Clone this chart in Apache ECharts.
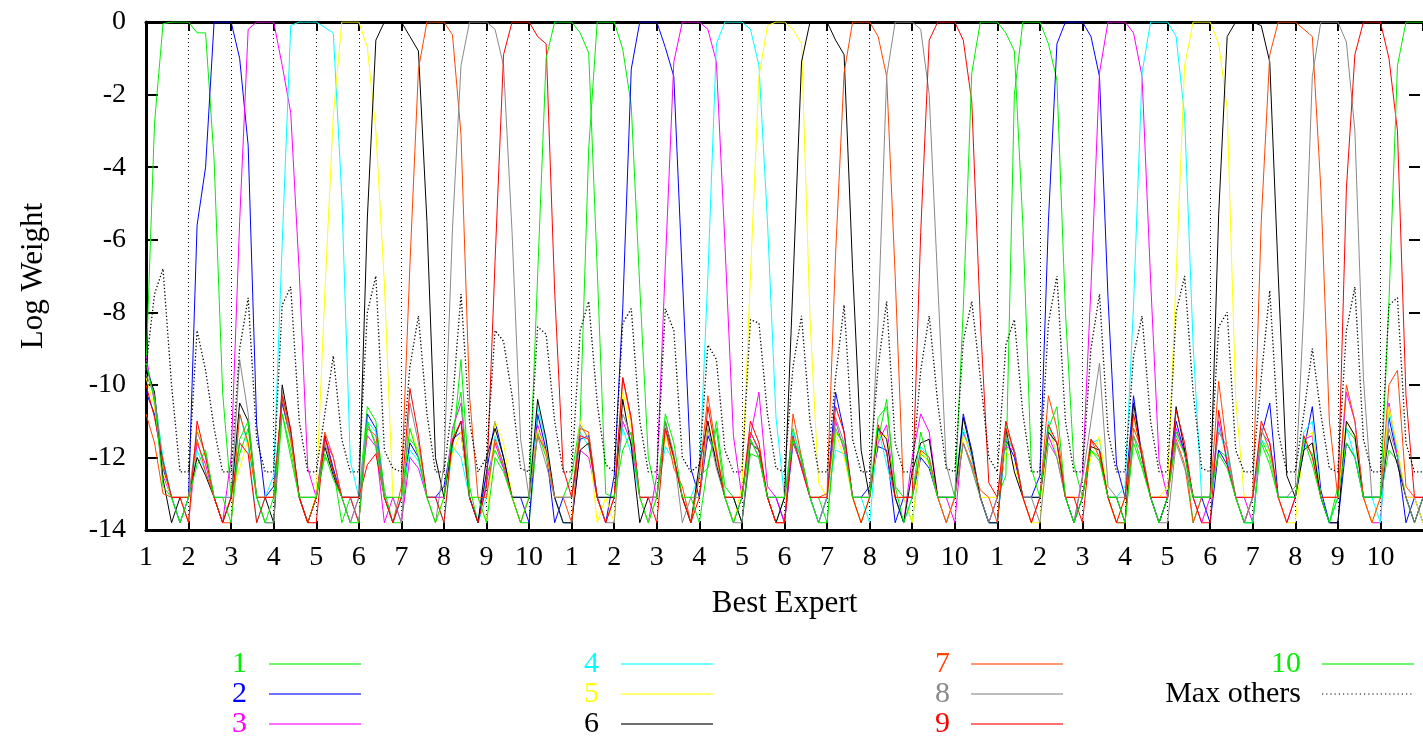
<!DOCTYPE html>
<html>
<head>
<meta charset="utf-8">
<script src="https://cdn.jsdelivr.net/npm/echarts/dist/echarts.min.js"></script>
<style>
html,body{margin:0;padding:0;background:#ffffff;}
#chart{width:1423px;height:738px;}
</style>
</head>
<body>
<div id="chart"></div>
<script>
// ---------------- data ----------------
// x axis: 30 segments, labelled by the best expert of each segment
const tickLabels = ['1','2','3','4','5','6','7','8','9','10',
                    '1','2','3','4','5','6','7','8','9','10',
                    '1','2','3','4','5','6','7','8','9','10'];
const seriesNames = ['1','2','3','4','5','6','7','8','9','10','Max others'];
const seriesColors = ['#00ee00','#0000ff','#ff00ff','#00ffff','#ffff00','#000000',
                      '#ff4500','#8a8a8a','#ff0000','#00ee00','#000000'];
const sampleStep = 0.2;   // samples every 0.2 segment, from 0 to 30

const expert1 = [
-9.6,-2.8,-0.05,0,0, 0,-0.3,-0.3,-3.8,-10.2,
-13.1,-11.9,-11.2,-13.1,-13.8, -13.8,-10.8,-11.8,-13.1,-13.1,
-13.1,-12.0,-12.3,-13.8,-13.1, -13.1,-10.6,-11.0,-12.9,-13.8,
-13.8,-11.5,-11.8,-13.1,-13.1, -13.1,-11.8,-9.3,-12.8,-13.8,
-12.5,-11.8,-12.3,-13.1,-13.8, -13.8,-11.3,-12.0,-13.1,-13.1,
-12.5,-11.0,-3.5,0,0, 0,-0.75,-2.3,-7.3,-12.0,
-13.1,-11.2,-12.0,-13.1,-13.8, -12.5,-12.3,-11.0,-12.8,-13.1,
-13.8,-11.9,-12.0,-13.1,-13.8, -13.1,-11.2,-12.1,-13.1,-13.1,
-13.8,-11.3,-11.6,-13.1,-13.8, -13.1,-11.5,-10.4,-12.8,-13.1,
-13.8,-11.9,-12.1,-13.1,-13.1, -13.1,-11.6,-12.3,-13.1,-13.8,
-13.1,-12.5,-2.0,0,0, 0,-0.6,-1.6,-8.0,-12.2,
-13.1,-11.8,-12.0,-13.1,-13.8, -13.8,-11.4,-12.2,-13.1,-13.1,
-13.1,-11.3,-11.8,-13.8,-13.1, -13.1,-11.8,-12.0,-13.1,-13.8,
-13.8,-11.5,-12.0,-13.1,-13.1, -13.1,-11.6,-11.9,-13.1,-13.8,
-12.8,-11.2,-11.5,-13.1,-13.1, -13.1,-11.8,-12.1,-13.1,-13.8,
-13.1];

const expert2 = [
-10.2,-10.8,-12.3,-13.1,-13.8,
-13.1,-5.6,-4.0,0,0, 0,-1.0,-3.4,-11.1,-13.1,
-12.8,-10.5,-11.5,-13.1,-13.8, -13.1,-11.4,-12.3,-13.1,-13.1,
-13.8,-10.8,-11.2,-13.1,-13.8, -13.1,-11.6,-12.0,-13.1,-13.1,
-12.8,-11.5,-11.3,-13.1,-13.8, -12.4,-11.0,-12.0,-13.1,-13.1,
-13.8,-10.8,-11.8,-13.8,-13.1, -13.1,-11.5,-11.4,-13.1,-13.8,
-12.5,-7.9,-1.3,0,0, 0,-0.7,-1.5,-7.0,-12.3,
-13.1,-11.4,-12.0,-13.1,-13.8, -13.1,-11.3,-11.8,-13.1,-13.1,
-13.8,-11.6,-12.2,-13.1,-13.8, -13.1,-10.2,-11.3,-13.1,-13.1,
-12.8,-11.7,-11.8,-13.8,-13.1, -13.1,-12.0,-12.3,-13.1,-13.8,
-13.1,-10.8,-11.8,-13.1,-13.8, -13.8,-11.5,-12.0,-13.1,-13.1,
-12.5,-5.5,-0.6,0,0, 0,-0.4,-1.5,-7.6,-12.2,
-13.1,-10.3,-12.0,-13.1,-13.8, -13.1,-11.0,-11.9,-13.1,-13.1,
-13.8,-11.8,-12.2,-13.1,-13.8, -13.1,-11.4,-10.5,-13.1,-13.1,
-13.1,-11.8,-10.6,-12.9,-13.8, -13.8,-11.6,-12.0,-13.1,-13.1,
-13.1,-10.9,-12.0,-13.8,-13.1,
-13.8];

const expert3 = [
-9.2,-10.5,-12.5,-13.1,-13.1, -13.8,-11.6,-12.2,-13.1,-13.8,
-12.0,-5.5,-0.2,0,0, 0,-1.2,-2.5,-6.9,-12.3,
-13.1,-11.5,-12.0,-13.1,-13.8, -13.1,-11.4,-11.7,-13.8,-13.1,
-13.8,-12.0,-12.3,-13.1,-13.1, -13.1,-11.2,-10.5,-13.1,-13.8,
-12.7,-11.6,-12.3,-13.1,-13.1, -13.1,-11.1,-11.9,-13.1,-13.8,
-13.8,-11.8,-12.0,-13.1,-13.1, -13.1,-11.0,-11.6,-13.1,-13.8,
-12.5,-6.7,-1.1,0,0, 0,-0.2,-1.1,-6.1,-11.4,
-13.1,-11.4,-10.2,-12.8,-13.1, -13.8,-11.5,-12.3,-13.1,-13.8,
-13.1,-11.0,-11.8,-13.1,-13.1, -13.1,-11.6,-11.1,-13.1,-13.8,
-12.0,-10.8,-11.3,-13.1,-13.1, -13.8,-11.3,-12.0,-13.1,-13.8,
-13.1,-11.7,-11.8,-13.1,-13.1, -13.1,-11.4,-12.0,-13.1,-13.8,
-12.5,-7.3,-1.4,0,0, 0,-0.3,-1.5,-7.1,-12.1,
-13.1,-11.2,-11.9,-13.1,-13.8, -13.1,-11.0,-12.1,-13.1,-13.1,
-13.8,-11.3,-11.6,-13.1,-13.8, -13.1,-11.5,-11.4,-13.1,-13.1,
-13.1,-10.2,-11.0,-13.1,-13.8, -13.8,-10.5,-12.0,-13.1,-13.1,
-13.1];

const expert4 = [
-9.4,-10.3,-12.0,-13.1,-13.8, -13.1,-11.8,-12.4,-13.1,-13.1,
-13.1,-10.8,-11.7,-13.8,-13.1,
-12.5,-6.1,-0.1,0,0, 0,-0.15,-0.3,-4.8,-12.1,
-13.1,-11.0,-11.3,-13.1,-13.8, -13.1,-11.8,-12.1,-13.1,-13.1,
-13.8,-11.7,-12.0,-13.1,-13.8, -13.1,-11.4,-12.2,-13.1,-13.1,
-13.1,-10.6,-11.6,-13.1,-13.8, -13.8,-11.3,-11.7,-13.1,-13.1,
-13.1,-11.2,-11.9,-13.1,-13.8, -13.1,-11.7,-12.1,-13.1,-13.1,
-12.5,-7.0,-0.6,0,0, 0,-0.2,-1.2,-5.5,-10.9,
-13.1,-11.3,-12.0,-13.1,-13.8, -13.1,-11.8,-11.9,-13.1,-13.1,
-13.8,-11.2,-12.2,-13.1,-13.8, -13.1,-11.7,-12.0,-13.1,-13.1,
-13.1,-11.2,-12.0,-13.1,-13.8, -13.8,-11.5,-11.8,-13.1,-13.1,
-13.1,-11.0,-12.0,-13.1,-13.8, -13.1,-11.6,-11.5,-13.1,-13.1,
-12.8,-7.8,-1.4,0,0, 0,-0.4,-2.6,-8.9,-13.1,
-13.1,-11.2,-12.0,-13.1,-13.8, -13.8,-11.5,-11.8,-13.1,-13.1,
-13.1,-11.3,-11.0,-13.1,-13.8, -13.1,-11.2,-12.0,-13.1,-13.1,
-13.8,-10.7,-11.8,-13.1,-13.8,
-13.1];

const expert5 = [
-9.8,-10.6,-12.4,-13.1,-13.1, -13.8,-11.2,-12.0,-13.1,-13.8,
-13.1,-12.3,-11.5,-13.1,-13.1, -13.1,-10.2,-11.6,-13.1,-13.8,
-13.0,-7.5,-2.6,0,0, 0,-0.7,-3.0,-7.2,-13.1,
-13.1,-11.2,-11.8,-13.1,-13.8, -13.1,-11.9,-11.3,-13.1,-13.1,
-13.8,-11.0,-11.6,-13.1,-13.8, -13.1,-11.2,-11.9,-13.1,-13.1,
-13.1,-11.0,-11.5,-13.8,-13.1, -13.8,-10.2,-11.2,-13.1,-13.8,
-13.1,-11.4,-12.1,-13.1,-13.1, -13.1,-11.0,-12.0,-13.1,-13.8,
-12.8,-7.0,-1.5,-0.1,0, 0,-0.2,-0.6,-8.2,-12.7,
-13.1,-11.3,-12.0,-13.1,-13.8, -13.1,-11.4,-11.4,-13.1,-13.1,
-13.8,-11.8,-12.2,-13.1,-13.8, -13.1,-11.4,-11.9,-13.1,-13.1,
-13.1,-11.8,-12.2,-13.1,-13.8, -13.8,-11.2,-11.9,-13.1,-13.1,
-13.1,-12.0,-11.4,-13.1,-13.8, -13.1,-10.9,-11.9,-13.1,-13.1,
-12.8,-7.0,-1.2,0,0, 0,-0.6,-2.4,-10.4,-13.1,
-13.1,-11.2,-11.9,-13.1,-13.8, -13.8,-11.5,-11.3,-13.1,-13.1,
-13.1,-11.0,-11.4,-13.1,-13.8, -13.1,-10.6,-11.7,-13.1,-13.1,
-13.8];

const expert6 = [
-9.5,-10.2,-12.6,-13.8,-13.1, -13.1,-12.0,-12.5,-13.1,-13.8,
-13.1,-10.5,-11.0,-13.1,-13.1, -13.8,-10.0,-11.3,-13.1,-13.8,
-13.1,-11.7,-12.5,-13.1,-13.1,
-13.1,-5.4,-0.5,0,0, 0,-0.4,-0.8,-5.5,-12.0,
-13.1,-11.6,-11.0,-13.1,-13.8, -12.0,-11.2,-12.0,-13.1,-13.1,
-13.1,-10.4,-11.5,-13.1,-13.8, -13.8,-11.8,-11.6,-13.1,-13.1,
-13.1,-10.4,-11.7,-13.8,-13.1, -13.1,-11.0,-12.0,-13.1,-13.8,
-12.2,-11.0,-12.2,-13.1,-13.1, -13.8,-11.6,-11.8,-13.1,-13.8,
-13.1,-7.2,-1.1,0,0, 0,-0.5,-0.9,-6.8,-11.8,
-13.1,-11.2,-11.5,-13.1,-13.8, -12.4,-11.6,-11.5,-13.1,-13.1,
-13.1,-10.9,-11.9,-13.1,-13.8, -13.8,-11.2,-12.4,-13.1,-13.1,
-13.1,-11.3,-11.6,-13.1,-13.8, -13.1,-11.7,-11.8,-13.1,-13.1,
-13.8,-10.5,-12.0,-13.1,-13.8, -13.1,-10.6,-11.8,-13.1,-13.1,
-13.1,-5.3,-0.4,0,0, 0,-0.1,-1.1,-7.0,-12.5,
-13.1,-11.8,-11.6,-13.1,-13.8, -13.8,-11.0,-11.4,-13.1,-13.1,
-13.1,-11.4,-12.2,-13.1,-13.8,
-13.1];

const expert7 = [
-10.8,-11.6,-13.0,-13.1,-13.1, -13.1,-11.5,-12.4,-13.1,-13.8,
-13.8,-10.8,-11.6,-13.1,-13.1, -13.1,-10.4,-11.5,-13.1,-13.8,
-13.1,-11.3,-12.0,-13.1,-13.1, -13.8,-11.2,-11.4,-13.1,-13.8,
-12.8,-6.7,-1.3,0,0, 0,-0.35,-3.1,-10.3,-13.1,
-13.1,-11.5,-12.2,-13.1,-13.8, -13.1,-11.4,-11.8,-13.1,-13.1,
-13.8,-11.2,-11.3,-13.1,-13.8, -13.1,-9.8,-11.0,-13.1,-13.1,
-13.1,-11.2,-12.3,-12.8,-13.8, -12.5,-10.3,-11.8,-13.1,-13.1,
-13.1,-11.3,-11.8,-13.1,-13.8, -13.8,-10.8,-12.0,-13.1,-13.1,
-13.0,-6.4,-1.4,0,0, 0,-0.4,-1.5,-7.0,-13.1,
-13.1,-11.8,-12.0,-13.1,-13.8, -13.1,-11.6,-12.2,-12.9,-13.1,
-13.8,-11.2,-11.8,-13.1,-13.8, -13.1,-10.3,-11.2,-13.1,-13.1,
-13.1,-11.5,-12.0,-13.1,-13.8, -13.8,-11.2,-11.8,-13.1,-13.1,
-13.1,-11.5,-12.2,-13.8,-13.1, -13.1,-9.9,-11.8,-13.1,-13.8,
-13.1,-5.5,-0.9,0,0, 0,-0.2,-0.4,-4.6,-11.0,
-13.1,-10.0,-11.0,-13.1,-13.8, -13.1,-10.0,-9.6,-12.8,-13.1,
-13.1];

const expert8 = [
-9.7,-10.3,-12.2,-13.1,-13.8, -13.1,-11.3,-11.9,-13.1,-13.1,
-13.1,-9.3,-10.8,-13.1,-13.8, -13.8,-10.2,-11.4,-13.1,-13.1,
-13.1,-11.6,-12.4,-13.1,-13.8, -13.1,-11.1,-11.6,-13.1,-13.1,
-13.8,-10.5,-11.6,-13.1,-13.8,
-12.2,-5.7,-1.2,0,0, 0,-0.2,-1.2,-5.8,-11.5,
-13.1,-11.4,-12.2,-13.1,-13.1, -13.1,-11.1,-11.5,-13.1,-13.8,
-13.8,-10.8,-11.4,-13.1,-13.1, -13.1,-11.0,-11.9,-13.8,-13.1,
-13.1,-11.2,-12.3,-13.1,-13.8, -13.8,-11.5,-12.0,-13.1,-13.1,
-13.1,-11.6,-12.2,-13.1,-13.8, -13.1,-10.9,-11.6,-13.1,-13.1,
-13.1,-8.2,-1.5,0,0, 0,-0.2,-2.0,-7.2,-12.2,
-13.1,-11.6,-12.3,-13.1,-13.8, -13.1,-11.4,-11.8,-13.1,-13.1,
-13.8,-11.6,-12.0,-13.1,-13.8, -12.6,-11.0,-9.4,-12.8,-13.1,
-13.1,-11.4,-11.9,-13.1,-13.8, -13.8,-11.6,-12.3,-13.1,-13.1,
-13.1,-11.3,-11.7,-13.1,-13.8, -13.1,-11.2,-11.8,-13.1,-13.1,
-12.8,-7.9,-1.5,0,0, 0,-0.55,-3.0,-9.8,-13.1,
-13.1,-11.2,-12.0,-13.1,-13.8,
-13.1];

const expert9 = [
-10.0,-10.9,-12.1,-13.1,-13.1, -13.8,-11.0,-12.0,-13.1,-13.8,
-13.1,-11.6,-11.9,-13.8,-13.1, -13.1,-10.3,-11.2,-13.1,-13.8,
-13.8,-11.4,-12.4,-13.1,-13.1, -13.1,-12.2,-11.9,-13.1,-13.8,
-13.1,-10.1,-11.4,-13.1,-13.1, -13.8,-11.5,-11.0,-13.1,-13.8,
-12.8,-6.6,-0.9,0,0, 0,-0.4,-0.6,-7.4,-12.3,
-13.1,-11.4,-11.5,-13.1,-13.8, -13.1,-9.8,-10.9,-13.1,-13.1,
-13.8,-11.2,-12.0,-13.1,-13.8, -13.1,-10.6,-11.9,-13.1,-13.1,
-13.1,-11.0,-11.6,-13.1,-13.8, -13.8,-11.4,-12.3,-13.1,-13.1,
-13.1,-10.6,-11.3,-13.1,-13.8, -13.1,-11.1,-11.9,-13.1,-13.1,
-13.1,-5.8,-0.5,0,0, 0,-0.5,-2.2,-8.2,-12.7,
-13.1,-11.0,-11.9,-13.1,-13.8, -13.1,-11.1,-11.6,-13.1,-13.1,
-13.8,-11.5,-11.8,-13.1,-13.8, -13.1,-10.8,-12.0,-13.1,-13.1,
-13.1,-10.7,-11.6,-13.1,-13.8, -13.8,-10.7,-12.2,-13.1,-13.1,
-13.1,-11.0,-11.6,-13.1,-13.8, -13.1,-11.4,-12.0,-13.1,-13.1,
-13.1,-4.6,-0.9,0,0, 0,-1.0,-3.0,-10.3,-13.1,
-13.1];

const expert10 = [
-9.4,-10.4,-12.8,-13.1,-13.8, -13.1,-12.2,-11.8,-13.1,-13.1,
-13.8,-11.5,-11.0,-13.1,-13.8, -13.1,-10.8,-12.0,-13.1,-13.1,
-13.1,-11.9,-12.6,-13.1,-13.8, -13.8,-11.0,-11.7,-13.1,-13.1,
-13.1,-11.2,-12.0,-13.1,-13.8, -13.1,-11.3,-10.2,-13.1,-13.1,
-13.8,-12.0,-12.4,-13.1,-13.8,
-13.1,-7.0,-1.0,0,0, 0,-0.3,-0.85,-6.8,-13.0,
-13.1,-11.8,-11.3,-13.1,-13.8, -13.1,-10.8,-11.6,-13.1,-13.1,
-13.8,-12.2,-11.2,-13.1,-13.8, -13.1,-11.5,-12.0,-13.1,-13.1,
-13.1,-11.5,-12.0,-13.1,-13.8, -13.8,-11.2,-11.7,-13.1,-13.1,
-13.1,-10.9,-10.6,-12.8,-13.8, -13.1,-11.3,-12.2,-13.1,-13.1,
-13.1,-7.9,-1.4,0,0, 0,-0.3,-0.8,-5.6,-12.3,
-13.1,-11.2,-10.6,-13.1,-13.8, -13.1,-11.8,-12.1,-13.1,-13.1,
-13.8,-11.6,-12.3,-13.1,-13.8, -13.1,-11.4,-11.9,-13.1,-13.1,
-13.1,-11.9,-12.3,-13.1,-13.8, -13.8,-11.6,-12.2,-13.1,-13.1,
-13.1,-11.5,-12.2,-13.1,-13.8, -13.1,-11.6,-12.0,-13.1,-13.1,
-13.1,-7.7,-1.2,0,0, 0];

const maxOthers = [
-9.5,-7.5,-6.8,-10.0,-12.4, -12.4,-8.5,-9.6,-11.2,-12.4,
-12.4,-9.0,-7.6,-11.5,-12.4, -12.4,-7.8,-7.3,-11.0,-12.4,
-12.4,-10.8,-9.2,-11.5,-12.4, -12.4,-8.0,-7.0,-11.8,-12.3,
-12.4,-9.5,-8.1,-10.8,-12.4, -12.4,-10.5,-7.5,-11.0,-12.4,
-12.0,-8.5,-8.8,-10.3,-12.3, -12.4,-8.4,-8.6,-11.0,-12.4,
-12.4,-8.5,-7.7,-10.5,-12.2, -12.4,-8.3,-7.9,-11.0,-12.4,
-12.4,-7.9,-8.5,-12.0,-12.4, -12.2,-8.9,-9.3,-11.8,-12.4,
-12.4,-8.2,-8.3,-10.8,-12.3, -12.4,-9.5,-8.1,-11.0,-12.4,
-12.4,-9.8,-7.8,-11.5,-12.4, -12.4,-9.5,-7.7,-11.6,-12.4,
-12.4,-9.6,-8.1,-10.5,-12.3, -12.4,-8.8,-7.7,-9.8,-12.0,
-12.4,-8.9,-8.2,-10.8,-12.4, -12.4,-8.3,-7.0,-11.0,-12.4,
-12.4,-9.0,-7.5,-11.3,-12.4, -12.4,-9.2,-8.1,-11.0,-12.4,
-12.4,-8.0,-7.0,-10.2,-12.3, -12.4,-8.4,-8.0,-11.8,-12.4,
-12.4,-9.8,-7.4,-11.3,-12.4, -12.4,-10.8,-9.0,-10.8,-12.3,
-12.4,-8.5,-7.3,-11.5,-12.4, -12.4,-7.8,-7.6,-11.6,-12.4,
-12.4];

const allValues = [expert1, expert2, expert3, expert4, expert5, expert6,
                   expert7, expert8, expert9, expert10, maxOthers];

// ---------------- chart ----------------
const FONT = "'Liberation Serif', 'DejaVu Serif', serif";
const chart = echarts.init(document.getElementById('chart'), null, {renderer: 'canvas'});

const series = allValues.map((vals, k) => ({
  name: seriesNames[k],
  type: 'line',
  xAxisIndex: 0,
  yAxisIndex: 0,
  data: vals.map((v, i) => [i * sampleStep, v]),
  showSymbol: false,
  symbol: 'none',
  silent: true,
  animation: false,
  lineStyle: {
    color: seriesColors[k],
    width: k === 10 ? 1.3 : 1,
    type: k === 10 ? [1.3, 2.2] : 'solid'
  },
  itemStyle: {color: seriesColors[k]},
  emphasis: {disabled: true},
  z: k === 10 ? 3 : 2
}));

// legend drawn as graphic text + line sample
const legendCols = [[0, 1, 2], [3, 4, 5], [6, 7, 8], [9, 10]];
const legendTextRight = [247, 599, 950, 1301];
const legendLineLeft = [269, 621, 971, 1322];
const legendRowY = [664, 694, 724];
const legendLineLen = 92;
const graphics = [];
legendCols.forEach((col, c) => {
  col.forEach((k, r) => {
    graphics.push({
      type: 'text',
      x: legendTextRight[c],
      y: legendRowY[r],
      silent: true,
      style: {
        text: seriesNames[k],
        fill: seriesColors[k],
        font: '30px ' + FONT,
        textAlign: 'right',
        textVerticalAlign: 'middle',
        align: 'right',
        verticalAlign: 'middle'
      }
    });
    graphics.push({
      type: 'line',
      silent: true,
      shape: {x1: legendLineLeft[c], y1: legendRowY[r], x2: legendLineLeft[c] + legendLineLen, y2: legendRowY[r]},
      style: {
        stroke: k === 10 ? '#555555' : seriesColors[k],
        lineWidth: 1.5,
        lineDash: k === 10 ? [1.2, 3] : null,
        opacity: k === 10 ? 1 : 0.75
      }
    });
  });
});

chart.setOption({
  animation: false,
  backgroundColor: '#ffffff',
  grid: {left: 146, right: -3, top: 22, bottom: 208, containLabel: false},
  xAxis: [{
    type: 'value', min: 0, max: 30, interval: 1, position: 'bottom',
    name: 'Best Expert', nameLocation: 'middle', nameGap: 58,
    nameTextStyle: {fontFamily: FONT, fontSize: 31, color: '#000'},
    axisLine: {show: true, onZero: false, lineStyle: {color: '#000', width: 3}},
    axisTick: {show: true, inside: true, length: 9, lineStyle: {color: '#000', width: 2}},
    axisLabel: {
      show: true, margin: 14, color: '#000', fontFamily: FONT, fontSize: 28,
      showMaxLabel: false,
      formatter: v => (tickLabels[Math.round(v)] !== undefined ? tickLabels[Math.round(v)] : '')
    },
    splitLine: {show: true, lineStyle: {color: '#000', width: 1, type: [1, 3]}}
  }, {
    type: 'value', min: 0, max: 30, interval: 1, position: 'top',
    axisLine: {show: true, onZero: false, lineStyle: {color: '#000', width: 3}},
    axisTick: {show: true, inside: true, length: 9, lineStyle: {color: '#000', width: 2}},
    axisLabel: {show: false},
    splitLine: {show: false}
  }],
  yAxis: [{
    type: 'value', min: -14, max: 0, interval: 2, position: 'left',
    name: 'Log Weight', nameLocation: 'middle', nameGap: 97, nameRotate: 90,
    nameTextStyle: {fontFamily: FONT, fontSize: 31, color: '#000'},
    axisLine: {show: true, onZero: false, lineStyle: {color: '#000', width: 3}},
    axisTick: {show: true, inside: true, length: 12, lineStyle: {color: '#000', width: 2}},
    axisLabel: {show: true, margin: 20, color: '#000', fontFamily: FONT, fontSize: 28},
    splitLine: {show: false}
  }, {
    type: 'value', min: -14, max: 0, interval: 2, position: 'right', offset: -3,
    axisLine: {show: false, onZero: false},
    axisTick: {show: true, inside: true, length: 11, lineStyle: {color: '#000', width: 2}},
    axisLabel: {show: false},
    splitLine: {show: false}
  }],
  series: series,
  graphic: graphics
});
</script>
</body>
</html>
